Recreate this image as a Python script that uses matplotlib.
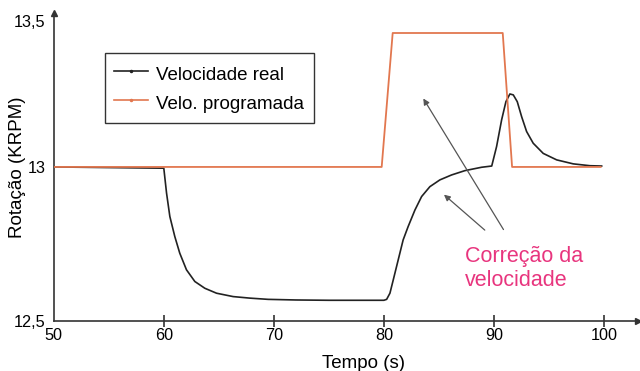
import matplotlib.pyplot as plt
import matplotlib.transforms as mtransforms
from matplotlib.lines import Line2D

plt.rcParams['font.family'] = ['Liberation Sans', 'DejaVu Sans']

# velocidade programada (orange)
prog_t = [50, 79.8, 80.8, 90.8, 91.65, 99.7]
prog_v = [13.0, 13.0, 13.435, 13.435, 13.0, 13.0]

# velocidade real (black)
real_t = [50, 60.0, 60.25, 60.55, 61.0, 61.45, 62.06, 62.82, 63.73, 64.79, 66.3, 67.82,
          69.48, 72.0, 75.0, 78.0, 80.0, 80.25, 80.55, 80.85, 81.3, 81.75, 82.2, 82.82,
          83.43, 84.18, 85.09, 86.15, 87.36, 88.88, 89.8, 90.24, 90.7, 91.09, 91.45,
          91.76, 92.12, 92.52, 92.97, 93.57, 94.48, 95.7, 97.21, 98.73, 99.79]
real_v = [13.0, 12.996, 12.915, 12.839, 12.774, 12.72, 12.666, 12.628, 12.606, 12.59,
          12.579, 12.574, 12.57, 12.568, 12.567, 12.567, 12.567, 12.57, 12.59, 12.633,
          12.698, 12.763, 12.806, 12.86, 12.904, 12.936, 12.958, 12.974, 12.988, 12.999,
          13.003, 13.066, 13.153, 13.212, 13.237, 13.234, 13.212, 13.163, 13.115,
          13.077, 13.044, 13.023, 13.01, 13.004, 13.003]

x_ticks = [50, 60, 70, 80, 90, 100]
y_ticks = [12.5, 13.0, 13.5]
y_labels = ["12,5", "13", "13,5"]

BLACK = "#222222"
ORANGE = "#E2774F"
PINK = "#E8357E"
AXIS = "#333333"

fig = plt.figure(figsize=(6.4, 3.71), dpi=100)
ax = fig.add_axes([0.084, 0.135, 0.913, 0.83])

ax.plot(real_t, real_v, color=BLACK, lw=1.2, solid_joinstyle="round", zorder=2)
ax.plot(prog_t, prog_v, color=ORANGE, lw=1.3, zorder=3)

ax.set_xlim(50, 103.1)
ax.set_ylim(12.5, 13.5)

for side in ["top", "right"]:
    ax.spines[side].set_visible(False)
for side in ["left", "bottom"]:
    ax.spines[side].set_color(AXIS)
    ax.spines[side].set_linewidth(1.2)
ax.plot(1, 0, ">", color=AXIS, ms=5, transform=ax.transAxes, clip_on=False)
ax.plot(0, 1, "^", color=AXIS, ms=5, transform=ax.transAxes, clip_on=False)

ax.set_xticks(x_ticks)
ax.set_xticklabels([str(t) for t in x_ticks])
ax.tick_params(axis="x", direction="inout", length=8, width=1.2, color=AXIS,
               labelsize=11.7, pad=1)
ax.get_xticklines()[0].set_visible(False)
ax.get_xticklines()[1].set_visible(False)
ax.set_yticks(y_ticks)
ax.set_yticklabels(y_labels)
ax.tick_params(axis="y", length=0, labelsize=11.7, pad=6)
# the 13,5 label sits a little below the arrow tip
top_label = ax.get_yticklabels()[2]
top_label.set_transform(top_label.get_transform() +
                        mtransforms.ScaledTranslation(0, -8 / 100, fig.dpi_scale_trans))

ax.set_xlabel("Tempo (s)", fontsize=13.5)
ax.xaxis.set_label_coords(0.53, -0.11)
ax.set_ylabel("Rotação (KRPM)", fontsize=13.5)
ax.yaxis.set_label_coords(-0.047, 0.5)

handles = [Line2D([], [], color=BLACK, lw=1.2, marker=".", ms=3),
           Line2D([], [], color=ORANGE, lw=1.2, marker=".", ms=3)]
leg = ax.legend(handles, ["Velocidade real", "Velo. programada"], loc="upper left",
                bbox_to_anchor=(0.087, 0.87), borderaxespad=0, fancybox=False,
                edgecolor="black", fontsize=13.5, numpoints=1, handlelength=1.8,
                handleheight=1.5, handletextpad=0.45, borderpad=0.5, labelspacing=0.3)
leg.get_frame().set_linewidth(1.0)

arrow_style = dict(arrowstyle="-|>", color="#555555", lw=0.9, mutation_scale=9)
ax.annotate("", xy=(85.27, 12.916), xytext=(89.36, 12.789), arrowprops=arrow_style)
ax.annotate("", xy=(83.45, 13.23), xytext=(91.0, 12.789), arrowprops=arrow_style)
ax.text(87.4, 12.67, "Correção da\nvelocidade", color=PINK, fontsize=15.5,
        ha="left", va="center", linespacing=1.15)

fig.savefig("out.png", dpi=100)
